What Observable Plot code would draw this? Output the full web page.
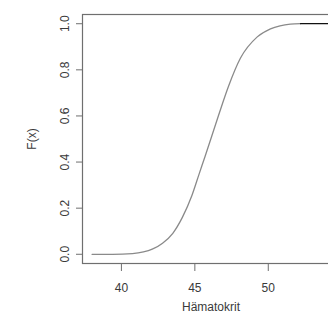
<!DOCTYPE html>
<html>
<head>
<meta charset="utf-8">
<script src="https://cdn.jsdelivr.net/npm/d3@7"></script>
<script src="https://cdn.jsdelivr.net/npm/@observablehq/plot@0.6"></script>
<style>
  html, body { margin: 0; padding: 0; overflow: hidden; background: #fff; }
  #chart { width: 328px; height: 322px; overflow: hidden; }
  #chart svg { max-width: none !important; }
</style>
</head>
<body>
<div id="chart"></div>
<script>
const hkX = [38.0, 39.4, 40.75, 41.5, 42.1, 42.8, 43.5, 44.15, 44.8, 45.3, 45.7, 46.6, 47.3, 48.1, 49.25, 50.15, 50.8, 51.5, 52.2];
const hkF = [0, 0, 0.003, 0.01, 0.022, 0.048, 0.091, 0.16, 0.255, 0.35, 0.425, 0.60, 0.73, 0.85, 0.943, 0.978, 0.991, 0.998, 1.0];
const tailX = [52.2, 54.2];
const tailF = [1, 1];
const xTicks = [40, 45, 50];
const yTicks = [0, 0.2, 0.4, 0.6, 0.8, 1.0];
const xLabel = "Hämatokrit";
const yLabel = "F(x)";

const main = hkX.map((x, i) => ({x, F: hkF[i]}));
const tail = tailX.map((x, i) => ({x, F: tailF[i]}));

const axisColor = "#6f6f6f";
const textColor = "#3a3a3a";

const chart = Plot.plot({
  width: 345,
  height: 322,
  marginLeft: 82,
  marginRight: 6,
  marginTop: 14,
  marginBottom: 59,
  style: {fontFamily: "'Liberation Sans', Arial, sans-serif", fontSize: "12px", color: textColor, background: "#fff", maxWidth: "none"},
  x: {domain: [37.35, 54.85]},
  y: {domain: [-0.04, 1.04]},
  marks: [
    Plot.frame({stroke: axisColor, strokeWidth: 1.2}),
    Plot.axisX({ticks: xTicks, tickSize: 8, tickPadding: 12, stroke: axisColor, fill: textColor,
      label: xLabel, labelAnchor: "center", labelOffset: 47, labelArrow: "none", fontSize: 12}),
    Plot.axisY({ticks: yTicks, tickFormat: d3.format(".1f"), tickSize: 6, tickPadding: 8, tickRotate: -90,
      stroke: axisColor, fill: textColor,
      label: yLabel, labelAnchor: "center", labelOffset: 55, labelArrow: "none", fontSize: 12}),
    Plot.line(main, {x: "x", y: "F", stroke: "#8a8a8a", strokeWidth: 1.3, curve: "monotone-x"}),
    Plot.line(tail, {x: "x", y: "F", stroke: "#111", strokeWidth: 1.3})
  ]
});
chart.style.maxWidth = "none";
document.getElementById("chart").appendChild(chart);
</script>
</body>
</html>
